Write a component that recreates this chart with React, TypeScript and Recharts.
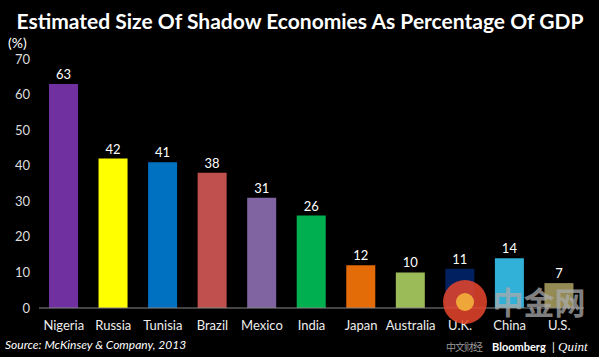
import React from 'react';
import { BarChart, Bar, XAxis, YAxis, Cell, LabelList } from 'recharts';

const countries = ['Nigeria', 'Russia', 'Tunisia', 'Brazil', 'Mexico', 'India', 'Japan', 'Australia', 'U.K.', 'China', 'U.S.'];
const values = [63, 42, 41, 38, 31, 26, 12, 10, 11, 14, 7];
const colors = ['#7030A0', '#FFFF00', '#0070C0', '#C0504D', '#8064A2', '#00B050', '#E36C09', '#9BBB59', '#002060', '#31B0D8', '#948A54'];
const yTicks = [0, 10, 20, 30, 40, 50, 60, 70];

const data = countries.map((c, i) => ({ name: c, value: values[i] }));

const FONT = 'Lato, "Open Sans", sans-serif';

export default function App() {
  return (
    <div style={{ position: 'absolute', left: 0, top: 0, width: 599, height: 357, background: '#000', fontFamily: FONT }}>
      <BarChart
        width={599}
        height={357}
        data={data}
        margin={{ top: 59, right: 15, bottom: 19, left: 9 }}
      >
        <XAxis
          dataKey="name"
          axisLine={{ stroke: '#888', strokeWidth: 1 }}
          tickLine={false}
          height={30}
          interval={0}
          tick={{ fill: '#eeeeee', fontSize: 13, fontFamily: FONT }}
          tickMargin={7}
        />
        <YAxis
          width={30}
          domain={[0, 70]}
          ticks={yTicks}
          axisLine={false}
          tickLine={false}
          tick={{ fill: '#dddddd', fontSize: 13, fontFamily: FONT }}
          tickMargin={3}
        />
        <Bar dataKey="value" barSize={29} isAnimationActive={false}>
          {data.map((d, i) => (
            <Cell key={d.name} fill={colors[i]} />
          ))}
          <LabelList dataKey="value" position="top" offset={5} fill="#ffffff" fontSize={13} fontFamily={FONT} />
        </Bar>
      </BarChart>
      <svg width={599} height={357} style={{ position: 'absolute', left: 0, top: 0, pointerEvents: 'none' }}>
        <text x={300} y={29} textAnchor="middle" fill="#ffffff" fontSize={21} fontWeight="bold" fontFamily={FONT}>
          Estimated Size Of Shadow Economies As Percentage Of GDP
        </text>
        <text x={8} y={48} fill="#ffffff" fontSize={14} fontFamily={FONT}>(%)</text>
        <text x={5} y={349} fill="#ffffff" fontSize={12} fontStyle="italic" fontFamily={FONT}>Source: McKinsey &amp; Company, 2013</text>
        <circle cx={465} cy={302} r={22} fill="#E8452C" opacity={0.85} />
        <circle cx={465} cy={302} r={9} fill="#F6B93B" opacity={0.85} />
        <text x={539} y={314} textAnchor="middle" fill="#aaaaaa" opacity={0.75} fontSize={31} fontWeight="bold" fontFamily='"Noto Sans CJK SC"'>中金网</text>
        <text x={446} y={351} fill="#999999" fontSize={10} letterSpacing={-1} fontFamily='"Noto Sans CJK SC"'>中文财经</text>
        <text x={492} y={351} fill="#ffffff" fontSize={11} fontWeight="bold" fontFamily={FONT}>Bloomberg</text>
        <text x={552} y={351} fill="#ffffff" fontSize={11} fontFamily={FONT}>|</text>
        <text x={558} y={351} fill="#ffffff" fontSize={13} fontStyle="italic" fontFamily='"Liberation Serif", serif'>Quint</text>
      </svg>
    </div>
  );
}
